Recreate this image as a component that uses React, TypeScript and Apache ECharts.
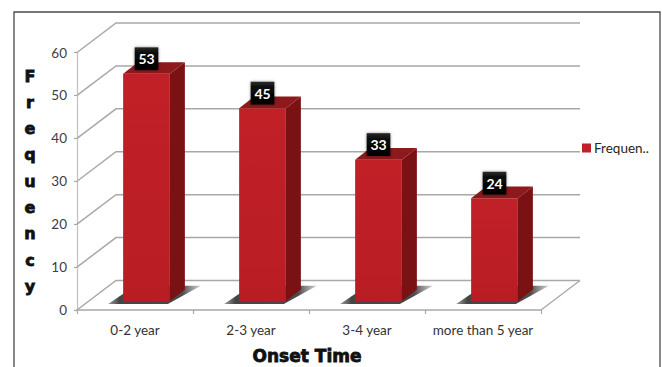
import React, { useEffect, useRef } from "react";
import * as echarts from "echarts";

const categories = ["0-2 year", "2-3 year", "3-4 year", "more than 5 year"];
const frequency = [53, 45, 33, 24];
const yTicks = [0, 10, 20, 30, 40, 50, 60];
const seriesName = "Frequen..";
const xTitle = "Onset Time";
const yTitle = "Frequency";

// Depth of the pseudo-3D box and of each bar, in pixels on screen.
const WALL_DX = 39;
const WALL_DY = 29.5;
const BAR_SHIFT_DX = 11.5;
const BAR_SHIFT_DY = 8.7;
const BAR_DX = 15;
const BAR_DY = 11.7;
const BAR_WIDTH_RATIO = 0.403;

const LINE = "#a8a8a8";

function renderWall(params: any, api: any) {
  const sys = params.coordSys;
  const y = api.coord([0, api.value(1)])[1];
  const left = sys.x;
  const right = sys.x + sys.width;
  const children: any[] = [
    {
      type: "polyline",
      shape: {
        points: [
          [left, y],
          [left + WALL_DX, y - WALL_DY],
          [right + WALL_DX, y - WALL_DY],
        ],
      },
      style: { stroke: LINE, lineWidth: 1.5, fill: "none" },
    },
  ];
  if (api.value(1) === 0) {
    children.push({
      type: "line",
      shape: { x1: right, y1: y, x2: right + WALL_DX, y2: y - WALL_DY },
      style: { stroke: LINE, lineWidth: 1.3 },
    });
  }
  return { type: "group", children };
}

function renderBar(params: any, api: any) {
  const idx = api.value(0);
  const value = api.value(1);
  const band = api.size([1, 0])[0];
  const w = band * BAR_WIDTH_RATIO;
  const top = api.coord([idx, value]);
  const base = api.coord([idx, 0]);
  const x0 = top[0] + BAR_SHIFT_DX - w / 2;
  const x1 = x0 + w;
  const yTop = top[1] - BAR_SHIFT_DY;
  const yBase = base[1] - BAR_SHIFT_DY;
  const midX = (x0 + x1) / 2;

  const floorShadow = {
    type: "polygon",
    shape: {
      points: [
        [x0 - 15, yBase + 2.6],
        [x1 - 2, yBase + 2.6],
        [x1 + 31, yBase - 15.5],
        [x0 + 12, yBase - 15.5],
      ],
    },
    style: {
      fill: new echarts.graphic.LinearGradient(0, 0.5, 1, 0.5, [
        { offset: 0, color: "rgba(110,110,110,0.7)" },
        { offset: 0.12, color: "#454545" },
        { offset: 0.8, color: "#4a4a4a" },
        { offset: 1, color: "rgba(170,170,170,0.6)" },
      ]),
    },
  };
  const front = {
    type: "rect",
    shape: { x: x0, y: yTop, width: w, height: yBase - yTop },
    style: {
      fill: new echarts.graphic.LinearGradient(0, 0, 0, 1, [
        { offset: 0, color: "#c12027" },
        { offset: 1, color: "#b91d24" },
      ]),
    },
  };
  const side = {
    type: "polygon",
    shape: {
      points: [
        [x1, yTop],
        [x1 + BAR_DX, yTop - BAR_DY],
        [x1 + BAR_DX, yBase - BAR_DY],
        [x1, yBase],
      ],
    },
    style: { fill: "#7a1214" },
  };
  const cap = {
    type: "polygon",
    shape: {
      points: [
        [x0, yTop],
        [x1, yTop],
        [x1 + BAR_DX, yTop - BAR_DY],
        [x0 + BAR_DX, yTop - BAR_DY],
      ],
    },
    style: { fill: "#8d191c" },
  };
  const box = {
    type: "rect",
    shape: { x: midX - 11.8, y: yTop - 26.5, width: 23.6, height: 22.8 },
    style: {
      fill: new echarts.graphic.LinearGradient(0, 0, 0, 1, [
        { offset: 0, color: "#2b2b2b" },
        { offset: 0.25, color: "#0a0a0a" },
        { offset: 1, color: "#000000" },
      ]),
      shadowBlur: 3,
      shadowColor: "rgba(0,0,0,0.45)",
    },
  };
  const label = {
    type: "text",
    style: {
      x: midX,
      y: yTop - 15,
      text: String(value),
      fill: "#ffffff",
      font: '700 14px Lato, "Open Sans", sans-serif',
      align: "center",
      verticalAlign: "middle",
    },
  };
  return { type: "group", children: [floorShadow, front, side, cap, box, label] };
}

export default function App() {
  const ref = useRef<HTMLDivElement>(null);

  useEffect(() => {
    const chart = echarts.init(ref.current!, undefined, { renderer: "svg" });
    chart.setOption({
      animation: false,
      backgroundColor: "#ffffff",
      grid: { left: 77, right: 121, top: 52.5, bottom: 57, outerBoundsMode: "none" },
      legend: {
        data: [seriesName],
        left: 582,
        top: 141,
        icon: "rect",
        itemWidth: 9,
        itemHeight: 9,
        itemGap: 0,
        padding: 0,
        selectedMode: false,
        textStyle: {
          color: "#262626",
          fontFamily: "Lato, sans-serif",
          fontSize: 13.5,
          padding: [0, 0, 0, -2],
        },
      },
      xAxis: {
        type: "category",
        data: categories,
        name: xTitle,
        nameLocation: "middle",
        nameGap: 37,
        nameTextStyle: {
          color: "#111111",
          fontFamily: '"DejaVu Sans", sans-serif',
          fontWeight: 800,
          fontSize: 17,
          textBorderColor: "#111111",
          textBorderWidth: 0.8,
          padding: [0, 4, 0, 0],
        },
        axisLine: { lineStyle: { color: LINE, width: 1.5 } },
        axisTick: { show: true, length: 4, lineStyle: { color: LINE, width: 1.2 } },
        axisLabel: {
          interval: 0,
          color: "#333333",
          fontFamily: "Lato, sans-serif",
          fontSize: 13.5,
          margin: 13,
        },
      },
      yAxis: {
        type: "value",
        min: 0,
        max: 60,
        interval: 10,
        name: yTitle.split("").join("\n"),
        nameLocation: "middle",
        nameRotate: 0,
        nameGap: 47,
        nameTextStyle: {
          color: "#111111",
          fontFamily: '"DejaVu Sans", sans-serif',
          fontWeight: 800,
          fontSize: 16,
          lineHeight: 26.3,
          align: "center",
          verticalAlign: "middle",
          textBorderColor: "#111111",
          textBorderWidth: 0.8,
        },
        axisLine: { show: true, lineStyle: { color: "#c4c4c4", width: 1.3 } },
        axisTick: { show: true, length: 3, lineStyle: { color: LINE, width: 1.2 } },
        axisLabel: {
          color: "#404040",
          fontFamily: "Lato, sans-serif",
          fontSize: 13.5,
          margin: 10,
        },
        splitLine: { show: false },
      },
      series: [
        {
          name: "wall",
          type: "custom",
          renderItem: renderWall,
          data: yTicks.map((t) => [0, t]),
          silent: true,
          z: 1,
        },
        {
          name: seriesName,
          type: "custom",
          renderItem: renderBar,
          itemStyle: { color: "#c0202a" },
          data: frequency.map((v, i) => [i, v]),
          encode: { x: 0, y: 1 },
          z: 2,
        },
      ],
      graphic: [
        {
          type: "polyline",
          silent: true,
          shape: {
            points: [
              [14, 370],
              [14, 12],
              [660, 12],
              [660, 370],
            ],
          },
          style: { stroke: "#4a4a4a", lineWidth: 1.3, fill: "none" },
        },
      ],
    });
    return () => chart.dispose();
  }, []);

  return (
    <div
      ref={ref}
      style={{ position: "absolute", left: 0, top: 0, width: 662, height: 367 }}
    />
  );
}
